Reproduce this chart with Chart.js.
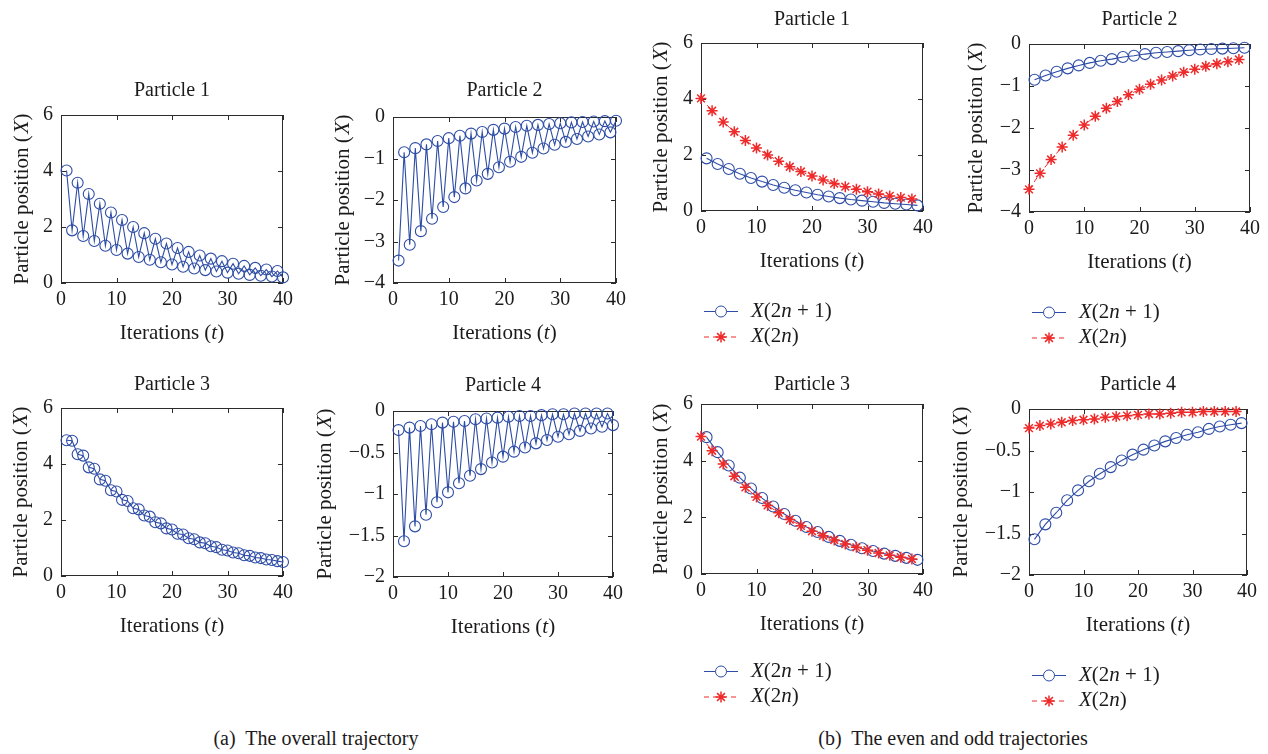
<!DOCTYPE html>
<html>
<head>
<meta charset="utf-8">
<script src="https://cdn.jsdelivr.net/npm/chart.js@4.4.1/dist/chart.umd.min.js"></script>
<style>
html,body{margin:0;padding:0;background:#fff;}
body{width:1268px;height:754px;position:relative;overflow:hidden;font-family:"Liberation Serif","Times New Roman",serif;color:#1c1a1b;}
canvas{position:absolute;}
.cap{position:absolute;width:500px;text-align:center;font-size:20px;line-height:22px;white-space:pre;color:#1c1a1b;}
</style>
</head>
<body>
<div class="cap" style="left:66px;top:727px;">(a)  The overall trajectory</div>
<div class="cap" style="left:703px;top:727px;">(b)  The even and odd trajectories</div>
<script>
// ---------------- DATA ----------------
const iterT = [1,2,3,4,5,6,7,8,9,10,11,12,13,14,15,16,17,18,19,20,21,22,23,24,25,26,27,28,29,30,31,32,33,34,35,36,37,38,39,40];
const evenT = [0,2,4,6,8,10,12,14,16,18,20,22,24,26,28,30,32,34,36,38];
const oddT  = [1,3,5,7,9,11,13,15,17,19,21,23,25,27,29,31,33,35,37,39];
const xTicks = [0,10,20,30,40];

const p1Pos = [4.02,1.88,3.58,1.68,3.18,1.50,2.83,1.33,2.52,1.18,2.25,1.05,2.00,0.93,1.78,0.83,1.58,0.74,1.41,0.66,
               1.25,0.58,1.11,0.52,0.98,0.46,0.87,0.41,0.78,0.37,0.69,0.33,0.61,0.29,0.54,0.26,0.48,0.23,0.43,0.20];
const p2Pos = [-3.46,-0.85,-3.08,-0.75,-2.75,-0.66,-2.45,-0.58,-2.17,-0.51,-1.93,-0.45,-1.72,-0.40,-1.53,-0.36,-1.37,-0.31,-1.21,-0.28,
               -1.08,-0.24,-0.96,-0.21,-0.86,-0.19,-0.76,-0.17,-0.67,-0.15,-0.60,-0.13,-0.53,-0.12,-0.47,-0.11,-0.42,-0.10,-0.37,-0.09];
const p3Pos = [4.85,4.83,4.35,4.30,3.88,3.83,3.45,3.40,3.06,3.02,2.72,2.68,2.42,2.38,2.16,2.12,1.92,1.88,1.70,1.66,
               1.51,1.48,1.35,1.31,1.20,1.17,1.06,1.03,0.94,0.91,0.84,0.81,0.74,0.72,0.66,0.64,0.59,0.57,0.53,0.50];
const p4Pos = [-0.23,-1.57,-0.20,-1.39,-0.18,-1.25,-0.16,-1.10,-0.14,-0.98,-0.13,-0.87,-0.12,-0.78,-0.10,-0.70,-0.09,-0.62,-0.08,-0.55,
               -0.07,-0.49,-0.06,-0.44,-0.06,-0.39,-0.05,-0.35,-0.04,-0.31,-0.04,-0.28,-0.03,-0.24,-0.03,-0.21,-0.03,-0.19,-0.03,-0.17];

const p1Ticks = [0,2,4,6];
const p2Ticks = [-4,-3,-2,-1,0];
const p3Ticks = [0,2,4,6];
const p4Ticks = [-2,-1.5,-1,-0.5,0];

const particleTitles = ['Particle 1','Particle 2','Particle 3','Particle 4'];
const xTitle = [['Iterations (',false],['t',true],[')',false]];
const yTitle = [['Particle position (\u200A',false],['X',true],[')',false]];
const legOdd  = [['X',true],['(2',false],['n',true],[' + 1)',false]];
const legEven = [['X',true],['(2',false],['n',true],[')',false]];

// ---------------- STYLE ----------------
const BLUE = '#2d4ca5';
const RED = '#ee2a2a';
const INK = '#1c1a1b';
const FONT = '"Liberation Serif","Times New Roman",serif';

// split helper: X(2n) = even indices, X(2n+1) = odd indices of the trajectory
const pick = (arr, parity) => arr.filter((_, i) => i % 2 === parity);

function richWidth(ctx, segs, size){
  let w = 0;
  segs.forEach(([t,it]) => { ctx.font = (it?'italic ':'') + size + 'px ' + FONT; w += ctx.measureText(t).width; });
  return w;
}
function drawRich(ctx, segs, x, y, size, center){
  let cx = center ? x - richWidth(ctx, segs, size)/2 : x;
  ctx.textAlign = 'left'; ctx.textBaseline = 'middle'; ctx.fillStyle = INK;
  segs.forEach(([t,it]) => {
    ctx.font = (it?'italic ':'') + size + 'px ' + FONT;
    ctx.fillText(t, cx, y);
    cx += ctx.measureText(t).width;
  });
}

const framePlugin = {
  id: 'frame',
  beforeDatasetsDraw(chart){
    const {ctx, chartArea:{left,top,right,bottom}, scales:{x,y}} = chart;
    ctx.save();
    ctx.strokeStyle = '#2b2b2b'; ctx.lineWidth = 1;
    ctx.strokeRect(left+0.5, top+0.5, right-left-1, bottom-top-1);
    const TL = 5;
    ctx.beginPath();
    x.ticks.forEach(t => {
      const px = Math.round(x.getPixelForValue(t.value)) + 0.5;
      ctx.moveTo(px, bottom); ctx.lineTo(px, bottom-TL);
      ctx.moveTo(px, top); ctx.lineTo(px, top+TL);
    });
    y.ticks.forEach(t => {
      const py = Math.round(y.getPixelForValue(t.value)) + 0.5;
      ctx.moveTo(left, py); ctx.lineTo(left+TL, py);
      ctx.moveTo(right, py); ctx.lineTo(right-TL, py);
    });
    ctx.stroke();
    ctx.restore();
  }
};

function drawMarker(ctx, style, x, y, r){
  ctx.beginPath();
  if (style === 'circle') {
    ctx.arc(x, y, r, 0, Math.PI*2);
    ctx.fillStyle = '#fff'; ctx.fill(); ctx.stroke();
  } else {
    for (let k = 0; k < 4; k++) {
      const a = k*Math.PI/4;
      ctx.moveTo(x - Math.cos(a)*r, y - Math.sin(a)*r);
      ctx.lineTo(x + Math.cos(a)*r, y + Math.sin(a)*r);
    }
    ctx.stroke();
  }
}

const richPlugin = {
  id: 'rich',
  afterDraw(chart, args, opts){
    const {ctx, chartArea:{left,top,right,bottom}} = chart;
    ctx.save();
    // panel title, centred over the plot box
    ctx.font = '20px ' + FONT; ctx.fillStyle = INK;
    ctx.textAlign = 'center'; ctx.textBaseline = 'middle';
    ctx.fillText(opts.title, (left+right)/2, top - opts.titleGap);
    drawRich(ctx, xTitle, (left+right)/2, bottom + 50, 21, true);
    ctx.save();
    ctx.translate(left - opts.yOff, (top+bottom)/2);
    ctx.rotate(-Math.PI/2);
    drawRich(ctx, yTitle, 0, 0, 21, true);
    ctx.restore();
    if (opts.legend) {
      const rows = [
        {segs: legOdd, color: BLUE, dash: [], marker: 'circle', w: 1},
        {segs: legEven, color: RED, dash: [5,4], marker: 'star', w: 1.5}
      ];
      rows.forEach((row, i) => {
        const yy = bottom + opts.legendY + i*25.5;
        ctx.strokeStyle = row.color; ctx.lineWidth = 1;
        ctx.setLineDash(row.dash);
        ctx.beginPath(); ctx.moveTo(left+3, yy+0.5); ctx.lineTo(left+37, yy+0.5); ctx.stroke();
        ctx.setLineDash([]);
        ctx.lineWidth = row.w;
        drawMarker(ctx, row.marker, left+20, yy+0.5, 5.5);
        drawRich(ctx, row.segs, left+50, yy, 21, false);
      });
    }
    ctx.restore();
  }
};

function overallSet(vals){
  return [{
    data: iterT.map((t,i) => ({x:t, y:vals[i]})),
    showLine: true, borderColor: BLUE, borderWidth: 1.1,
    pointStyle: 'circle', pointRadius: 5.5, pointBorderWidth: 1.1,
    pointBorderColor: BLUE, pointBackgroundColor: 'rgba(0,0,0,0)', clip: false
  }];
}
function splitSets(vals){
  const ev = pick(vals, 0), od = pick(vals, 1);
  return [
    { data: evenT.map((t,i) => ({x:t, y:ev[i]})), order: 0,
      showLine: true, borderColor: RED, borderWidth: 1, borderDash: [5,4],
      pointStyle: 'star', pointRadius: 5.5, pointBorderWidth: 1.5,
      pointBorderColor: RED, pointBackgroundColor: RED, clip: false },
    { data: oddT.map((t,i) => ({x:t, y:od[i]})), order: 1,
      showLine: true, borderColor: BLUE, borderWidth: 1.1,
      pointStyle: 'circle', pointRadius: 5.5, pointBorderWidth: 1.1,
      pointBorderColor: BLUE, pointBackgroundColor: 'rgba(0,0,0,0)', clip: false }
  ];
}

// ---------------- LAYOUT ----------------
const panels = [
  {L:61,  T:115, R:283,  B:283, titleY:91,  yOff:39,   title:0, ticks:p1Ticks, sets:overallSet(p1Pos)},
  {L:393, T:117, R:616,  B:283, titleY:91,  yOff:50,   title:1, ticks:p2Ticks, sets:overallSet(p2Pos)},
  {L:61,  T:408, R:283,  B:576, titleY:385, yOff:40,   title:2, ticks:p3Ticks, sets:overallSet(p3Pos)},
  {L:393, T:411, R:613,  B:577, titleY:386, yOff:68,   title:3, ticks:p4Ticks, sets:overallSet(p4Pos)},
  {L:701, T:43,  R:923,  B:211, titleY:20,  yOff:40,   title:0, ticks:p1Ticks, sets:splitSets(p1Pos), legend:true, legendY:100},
  {L:1029,T:44,  R:1250, B:212, titleY:20,  yOff:53,   title:1, ticks:p2Ticks, sets:splitSets(p2Pos), legend:true, legendY:100},
  {L:701, T:404, R:923,  B:574, titleY:385, yOff:40,   title:2, ticks:p3Ticks, sets:splitSets(p3Pos), legend:true, legendY:97},
  {L:1029,T:409, R:1247, B:575, titleY:385, yOff:68,   title:3, ticks:p4Ticks, sets:splitSets(p4Pos), legend:true, legendY:100}
];

const minus = v => String(v).replace('-', '\u2212');

panels.forEach(p => {
  const M = 90, TOP = 40, XH = 60;
  const extra = p.legend ? 90 : 0;
  const cw = p.R - p.L + 2*M;
  const ch = p.B - p.T + TOP + XH + extra;
  const cv = document.createElement('canvas');
  cv.width = cw; cv.height = ch;
  cv.style.left = (p.L - M) + 'px';
  cv.style.top = (p.T - TOP) + 'px';
  cv.style.width = cw + 'px'; cv.style.height = ch + 'px';
  document.body.appendChild(cv);
  new Chart(cv, {
    type: 'scatter',
    data: { datasets: p.sets },
    options: {
      responsive: false, animation: false, devicePixelRatio: 1, events: [],
      layout: { padding: { left: 0, right: M, top: TOP, bottom: extra } },
      plugins: {
        legend: { display: false },
        tooltip: { enabled: false },
        title: { display: false },
        rich: { title: particleTitles[p.title], titleGap: p.T - p.titleY,
                yOff: p.yOff, legend: !!p.legend, legendY: p.legendY || 0 }
      },
      scales: {
        x: {
          type: 'linear', min: 0, max: 40,
          grid: { display: false, drawTicks: false }, border: { display: false },
          ticks: { padding: 5, color: INK, font: { family: FONT, size: 20 }, autoSkip: false, maxRotation: 0, minRotation: 0, callback: minus },
          afterBuildTicks: s => { s.ticks = xTicks.map(v => ({value: v})); },
          afterFit: s => { s.height = XH; s.paddingLeft = 0; s.paddingRight = 0; }
        },
        y: {
          type: 'linear', min: p.ticks[0], max: p.ticks[p.ticks.length-1],
          grid: { display: false, drawTicks: false }, border: { display: false },
          ticks: { padding: 8, color: INK, font: { family: FONT, size: 20 }, autoSkip: false, callback: minus },
          afterBuildTicks: s => { s.ticks = p.ticks.map(v => ({value: v})); },
          afterFit: s => { s.width = M; s.paddingTop = 0; s.paddingBottom = 0; }
        }
      }
    },
    plugins: [framePlugin, richPlugin]
  });
});
</script>
</body>
</html>
